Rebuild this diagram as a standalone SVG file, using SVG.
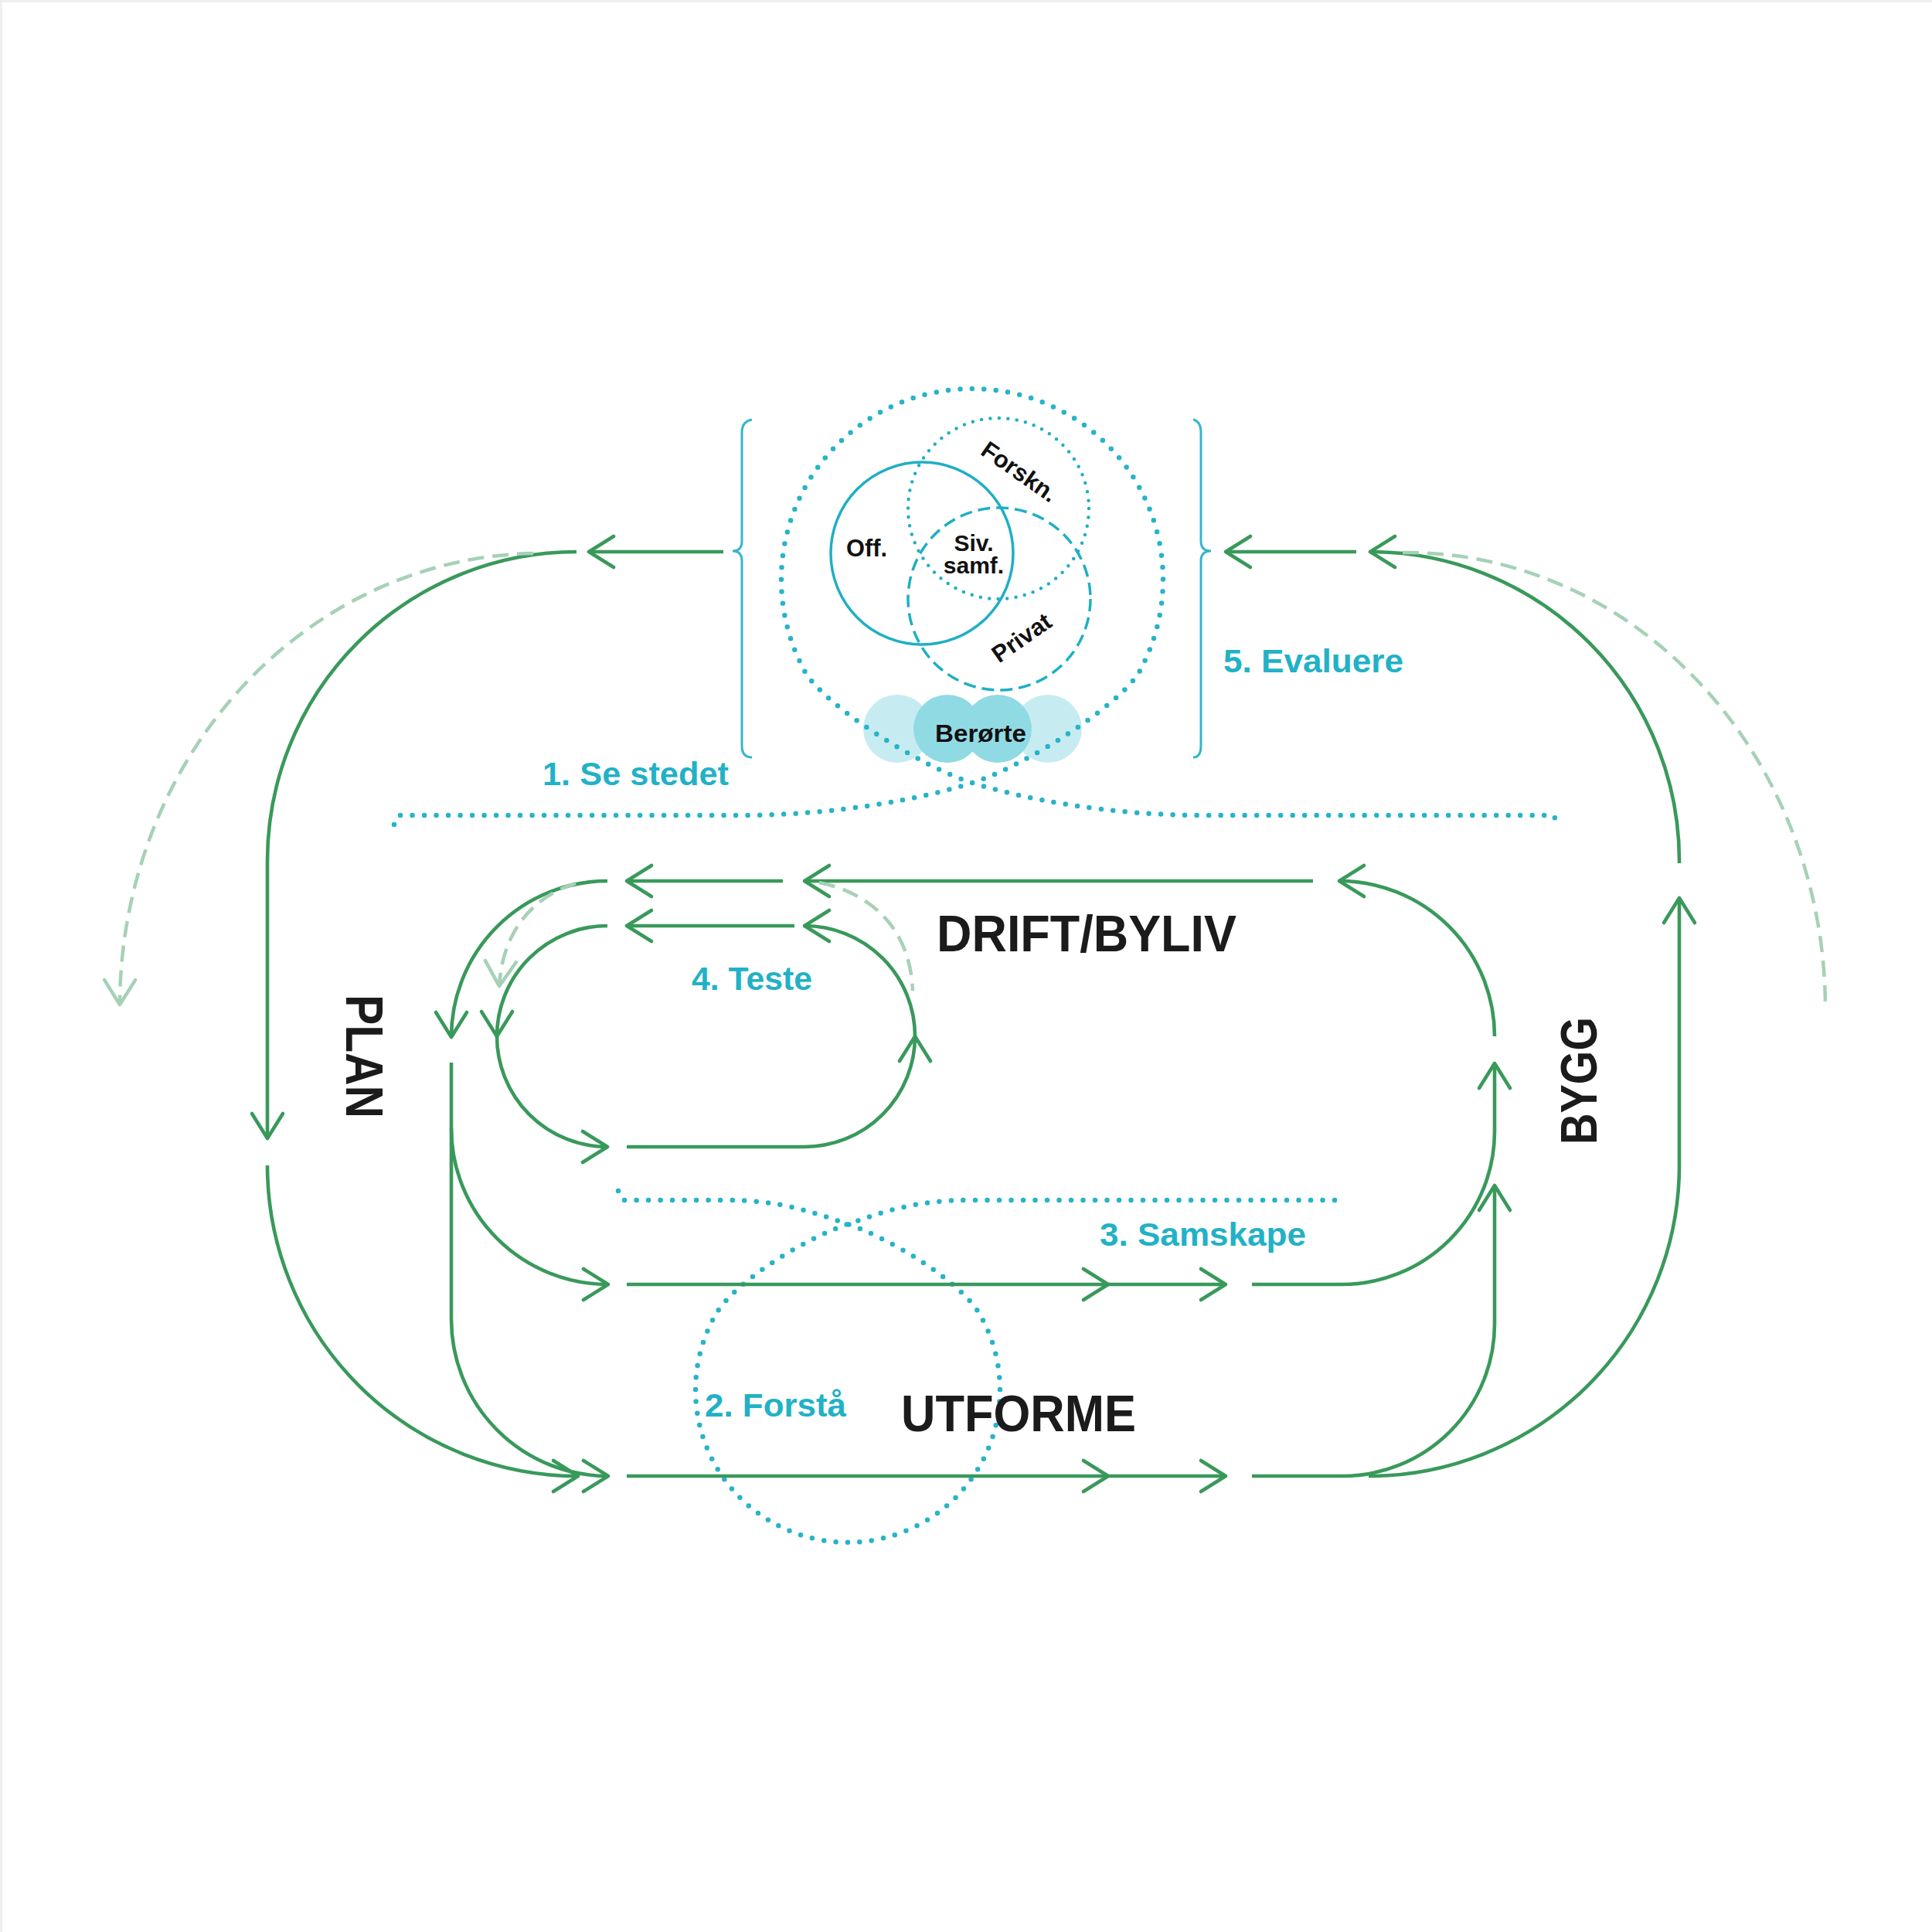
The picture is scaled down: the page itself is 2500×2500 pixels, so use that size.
<svg xmlns="http://www.w3.org/2000/svg" width="2500" height="2500" viewBox="0 0 2500 2500">
<style>
.g{fill:none;stroke:#39995b;stroke-width:4.6;stroke-linecap:butt}
.lg{fill:none;stroke:#a6d1b6;stroke-width:4.5;stroke-dasharray:21 11}
.dot{fill:none;stroke:#27b3c8;stroke-width:6.5;stroke-linecap:round;stroke-dasharray:0 15.5}
.tl{font-family:"Liberation Sans",Arial,sans-serif;font-weight:700;fill:#22b1c6}
.bk{font-family:"Liberation Sans",Arial,sans-serif;font-weight:700;fill:#1b1b1b}
.vn{font-family:"Liberation Sans",Arial,sans-serif;font-weight:700;fill:#111;font-size:30px}
.br{fill:none;stroke:#35b6c9;stroke-width:3}
</style>
<defs>
<marker id="ah" markerUnits="userSpaceOnUse" viewBox="-40 -30 50 60" markerWidth="50" markerHeight="60" refX="0" refY="0" orient="auto" overflow="visible">
<path d="M-32,-20 L0,0 L-32,20" fill="none" stroke="#39995b" stroke-width="4.6" stroke-linecap="round" stroke-linejoin="round"/>
</marker>
<marker id="ahl" markerUnits="userSpaceOnUse" viewBox="-40 -30 50 60" markerWidth="50" markerHeight="60" refX="0" refY="0" orient="auto" overflow="visible">
<path d="M-32,-20 L0,0 L-32,20" fill="none" stroke="#a6d1b6" stroke-width="4.5" stroke-linecap="round" stroke-linejoin="round"/>
</marker>
</defs>
<rect width="2500" height="2500" fill="#fff"/>
<path d="M0,1.5 H2500 M1.5,0 V2500" stroke="#efefef" stroke-width="3" fill="none"/>

<g id="actors">
<circle cx="1161" cy="943" r="44" fill="#c6ecf1"/>
<circle cx="1356" cy="943" r="44" fill="#c6ecf1"/>
<circle cx="1226" cy="943" r="44" fill="#90dae4"/>
<circle cx="1291" cy="943" r="44" fill="#90dae4"/>
<text class="vn" x="1269" y="960" text-anchor="middle" style="font-size:32px" textLength="118" lengthAdjust="spacingAndGlyphs">Berørte</text>
</g>

<g id="venn">
<circle cx="1193" cy="716" r="118" fill="none" stroke="#1fafc4" stroke-width="3.5"/>
<circle cx="1292" cy="658" r="117" fill="none" stroke="#1fafc4" stroke-width="4.5" stroke-linecap="round" stroke-dasharray="0 11.5"/>
<circle cx="1293" cy="775" r="118" fill="none" stroke="#1fafc4" stroke-width="3.5" stroke-dasharray="16 8"/>
<text class="vn" x="1095" y="720" style="font-size:31px" textLength="53" lengthAdjust="spacingAndGlyphs">Off.</text>
<text class="vn" x="1260" y="713" text-anchor="middle">Siv.</text>
<text class="vn" x="1260" y="742" text-anchor="middle">samf.</text>
<text class="vn" transform="translate(1313,619) rotate(35)" text-anchor="middle" style="font-size:31px">Forskn.</text>
<text class="vn" transform="translate(1328,834) rotate(-35)" text-anchor="middle" style="font-size:31px">Privat</text>
</g>

<g id="stakeholder-loop">
<path class="dot" d="M510,1067 L516,1055 L960,1055 C1080,1055 1192,1034 1258,1013 C1325,992 1451,912 1475,868 A247,247 0 1 0 1041,868 C1065,912 1191,992 1258,1013 C1325,1034 1436,1055 1556,1055 L2010,1055 L2017,1067"/>
</g>

<g id="forsta-loop">
<path class="dot" d="M800,1541 L806,1553 L940,1553 C1010,1553 1050,1568 1097,1584 C1153,1603 1243,1658 1268,1701 A197,197 0 1 1 926,1701 C951,1658 1041,1603 1097,1584 C1144,1568 1184,1553 1254,1553 L1729,1553 L1735,1541"/>
</g>

<g id="braces">
<path class="br" d="M973,543 Q960,545 960,560 L960,700 Q960,713 948,713 Q960,713 960,726 L960,965 Q960,980 973,980"/>
<path class="br" d="M1544,543 Q1554,545 1554,560 L1554,700 Q1554,713 1567,713 Q1554,713 1554,726 L1554,965 Q1554,980 1544,980"/>
</g>

<g id="connectors">
<!-- outer left -->
<path class="g" d="M936,714 L762,714" marker-end="url(#ah)"/>
<path class="g" d="M746,714 A400,400 0 0 0 346,1114 L346,1473" marker-end="url(#ah)"/>
<path class="g" d="M346,1508 A402,402 0 0 0 748,1910" marker-end="url(#ah)"/>
<!-- outer right -->
<path class="g" d="M1755,714 L1586,714" marker-end="url(#ah)"/>
<path class="g" d="M2173,1117 A400,400 0 0 0 1773,714" marker-end="url(#ah)"/>
<path class="g" d="M1771,1910 A402,402 0 0 0 2173,1508 L2173,1162" marker-end="url(#ah)"/>
<!-- bottom line UTFORME -->
<path class="g" d="M811,1910 L1434,1910" marker-end="url(#ah)"/>
<path class="g" d="M1434,1910 L1586,1910" marker-end="url(#ah)"/>
<path class="g" d="M1620,1910 L1737,1910 A197,197 0 0 0 1934,1713 L1934,1534" marker-end="url(#ah)"/>
<!-- middle line SAMSKAPE -->
<path class="g" d="M811,1662 L1434,1662" marker-end="url(#ah)"/>
<path class="g" d="M1434,1662 L1586,1662" marker-end="url(#ah)"/>
<path class="g" d="M1620,1662 L1736,1662 A198,198 0 0 0 1934,1464 L1934,1376" marker-end="url(#ah)"/>
<!-- DRIFT -->
<path class="g" d="M1934,1341 A201,201 0 0 0 1733,1140" marker-end="url(#ah)"/>
<path class="g" d="M1699,1140 L1041,1140" marker-end="url(#ah)"/>
<path class="g" d="M1013,1140 L811,1140" marker-end="url(#ah)"/>
<path class="g" d="M786,1140 A202,202 0 0 0 584,1342" marker-end="url(#ah)"/>
<!-- PLAN inner -->
<path class="g" d="M584,1375 L584,1707 A203,203 0 0 0 787,1910" marker-end="url(#ah)"/>
<path class="g" d="M584,1460 A203,202 0 0 0 787,1662" marker-end="url(#ah)"/>
<!-- TESTE loop -->
<path class="g" d="M1028,1198 L811,1198" marker-end="url(#ah)"/>
<path class="g" d="M786,1198 A143,143 0 0 0 643,1341" marker-end="url(#ah)"/>
<path class="g" d="M643,1341 A143,143 0 0 0 786,1484" marker-end="url(#ah)"/>
<path class="g" d="M811,1484 L1041,1484 A143,143 0 0 0 1184,1341" marker-end="url(#ah)"/>
<path class="g" d="M1184,1341 A143,143 0 0 0 1041,1198" marker-end="url(#ah)"/>
<!-- light dashed feedback -->
<path class="lg" d="M690,716 A545,586 0 0 0 155,1300" marker-end="url(#ahl)"/>
<path class="lg" d="M1815,715 A542,591 0 0 1 2362,1305"/>
<path class="lg" d="M745,1143 C690,1160 650,1205 646,1276" marker-end="url(#ahl)"/>
<path class="lg" d="M1060,1142 C1125,1155 1178,1200 1181,1282"/>
</g>

<g id="labels">
<text class="tl" x="702" y="1016" style="font-size:42px" textLength="241" lengthAdjust="spacingAndGlyphs">1. Se stedet</text>
<text class="tl" x="1583" y="870" style="font-size:42px" textLength="233" lengthAdjust="spacingAndGlyphs">5. Evaluere</text>
<text class="tl" x="895" y="1281" style="font-size:42px" textLength="156" lengthAdjust="spacingAndGlyphs">4. Teste</text>
<text class="tl" x="1423" y="1612" style="font-size:42px" textLength="267" lengthAdjust="spacingAndGlyphs">3. Samskape</text>
<text class="tl" x="912" y="1833" style="font-size:42px" textLength="183" lengthAdjust="spacingAndGlyphs">2. Forstå</text>
<text class="bk" x="1212" y="1231" style="font-size:66px" textLength="388" lengthAdjust="spacingAndGlyphs">DRIFT/BYLIV</text>
<text class="bk" x="1166" y="1852" style="font-size:66px" textLength="304" lengthAdjust="spacingAndGlyphs">UTFORME</text>
<text class="bk" transform="translate(448,1287) rotate(90)" style="font-size:68px" textLength="160" lengthAdjust="spacingAndGlyphs">PLAN</text>
<text class="bk" transform="translate(2066,1481) rotate(-90)" style="font-size:66px" textLength="165" lengthAdjust="spacingAndGlyphs">BYGG</text>
</g>
</svg>
